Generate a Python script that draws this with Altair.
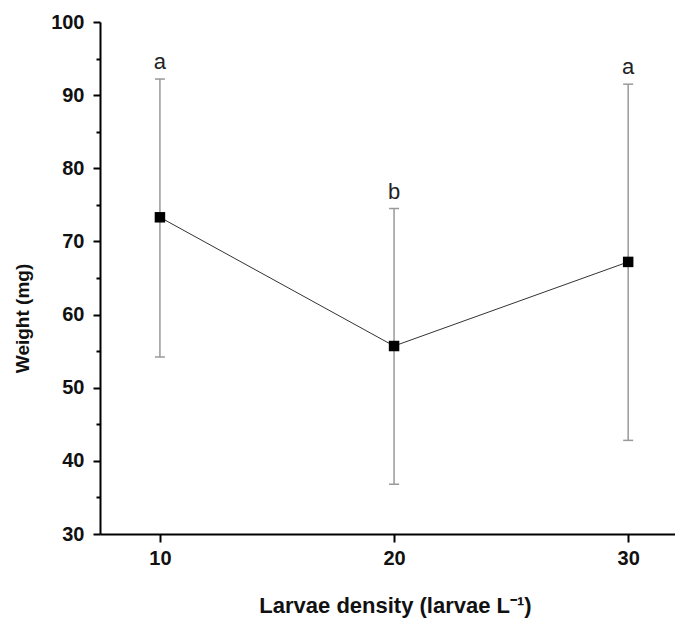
import altair as alt
import pandas as pd

density = [10, 20, 30]
weight = [73.3, 55.7, 67.2]
err_low = [54.2, 36.8, 42.8]
err_high = [92.2, 74.5, 91.5]
letters = ["a", "b", "a"]

df = pd.DataFrame({"d": density, "w": weight, "lo": err_low, "hi": err_high, "lab": letters})

FONT = "Liberation Sans"
xs = alt.Scale(domain=[7.44, 32.0], nice=False, zero=False)
ys = alt.Scale(domain=[30, 100], nice=False, zero=False)

base = alt.Chart(df)

x_axis = alt.Axis(
    values=[10, 20, 30], title="Larvae density (larvae L⁻¹)", grid=False,
    domainColor="#000", domainWidth=2, tickColor="#000", tickWidth=2, tickSize=8,
    labelFont=FONT, labelFontSize=20, labelFontWeight="bold", labelColor="#111", labelPadding=6,
    titleFont=FONT, titleFontSize=22, titleFontWeight="bold", titleColor="#111",
    titlePadding=27, titleX=295)
x_main = alt.X("d:Q", scale=xs, axis=x_axis)
y_main = alt.Y("w:Q", scale=ys, axis=alt.Axis(
    values=[30, 40, 50, 60, 70, 80, 90, 100], title="Weight (mg)", grid=False, orient="left",
    domainColor="#000", domainWidth=2, tickColor="#000", tickWidth=2, tickSize=7,
    labelFont=FONT, labelFontSize=20, labelFontWeight="bold", labelColor="#111", labelPadding=9,
    titleFont=FONT, titleFontSize=19, titleFontWeight="bold", titleColor="#111",
    titleX=-68, titleY=296))

line = base.mark_line(color="#333", strokeWidth=1).encode(x=x_main, y=y_main)

minor = base.mark_point(opacity=0).encode(
    x=x_main,
    y=alt.Y("w:Q", scale=ys, axis=alt.Axis(
        values=[35, 45, 55, 65, 75, 85, 95], labels=False, title=None, grid=False, orient="left",
        domain=False, tickColor="#000", tickWidth=2, tickSize=4)),
)

err = base.mark_rule(color="#999", strokeWidth=1.5).encode(
    x=x_main, y=alt.Y("lo:Q", scale=ys, axis=None), y2="hi:Q")
cap_hi = base.mark_rule(color="#999", strokeWidth=1.5, xOffset=-5, x2Offset=5).encode(
    x=x_main, x2="d:Q", y=alt.Y("hi:Q", scale=ys, axis=None))
cap_lo = base.mark_rule(color="#999", strokeWidth=1.5, xOffset=-5, x2Offset=5).encode(
    x=x_main, x2="d:Q", y=alt.Y("lo:Q", scale=ys, axis=None))
pts = base.mark_square(color="#000", size=110, opacity=1).encode(x=x_main, y=alt.Y("w:Q", scale=ys, axis=None))
txt = base.mark_text(font=FONT, fontSize=22, color="#222", dy=-17).encode(
    x=x_main, y=alt.Y("hi:Q", scale=ys, axis=None), text="lab:N")

chart = alt.layer(line, minor, err, cap_hi, cap_lo, pts, txt).resolve_axis(y="independent").properties(
    width=575, height=512,
    autosize=alt.AutoSizeParams(type="none"),
    padding={"left": 92, "top": 14, "right": 0, "bottom": 85},
).configure_view(stroke=None)

chart.save("out.html", embed_options={"renderer": "svg", "actions": False})
